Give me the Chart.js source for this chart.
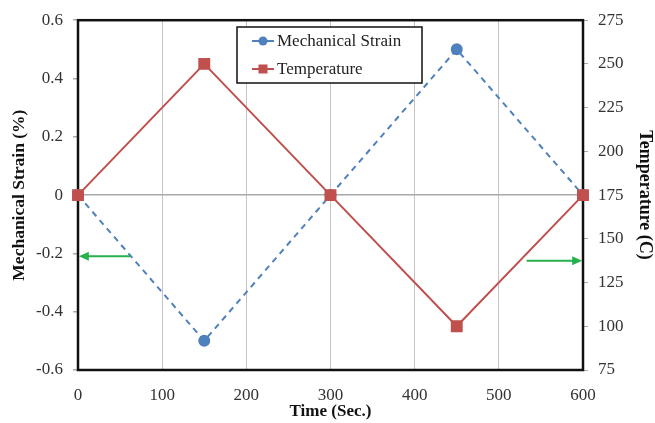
<!DOCTYPE html>
<html>
<head>
<meta charset="utf-8">
<script src="https://cdn.jsdelivr.net/npm/chart.js@4.4.1/dist/chart.umd.min.js"></script>
<style>
html,body{margin:0;padding:0;background:#fff;}
#wrap{width:655px;height:423px;}
</style>
</head>
<body>
<div id="wrap"><canvas id="c" width="655" height="423"></canvas></div>
<script>
// Data
const timeSec = [0, 150, 300, 450, 600];
const mechanicalStrain = [0, -0.5, 0, 0.5, 0];
const temperature = [175, 250, 175, 100, 175];
const seriesLabels = ['Mechanical Strain', 'Temperature'];
const xTicks = [0, 100, 200, 300, 400, 500, 600];
const strainTicks = [-0.6, -0.4, -0.2, 0, 0.2, 0.4, 0.6];
const tempTicks = [75, 100, 125, 150, 175, 200, 225, 250, 275];
// Annotation arrows (data units)
const arrowStrain = { axis: 'y', value: -0.21, from: 62, to: 1 };
const arrowTemp = { axis: 'y1', value: 137.5, from: 533, to: 599 };

const BLUE = '#4F81BD';
const RED = '#C0504D';
const GREEN = '#25B14C';
const FONT = '"Liberation Serif", "Times New Roman", serif';

const strainPts = timeSec.map((t, i) => ({ x: t, y: mechanicalStrain[i] }));
const tempPts = timeSec.map((t, i) => ({ x: t, y: temperature[i] }));

const framePlugin = {
  id: 'frame',
  beforeDatasetsDraw(chart) {
    const a = chart.chartArea, ctx = chart.ctx;
    ctx.save();
    ctx.strokeStyle = '#111';
    ctx.lineWidth = 2.5;
    ctx.strokeRect(a.left, a.top, a.right - a.left, a.bottom - a.top);
    ctx.restore();
  }
};

function drawArrow(ctx, x1, y, x2, color) {
  ctx.save();
  ctx.strokeStyle = color; ctx.fillStyle = color; ctx.lineWidth = 2;
  const dir = Math.sign(x2 - x1);
  ctx.beginPath(); ctx.moveTo(x1, y); ctx.lineTo(x2 - dir * 8, y); ctx.stroke();
  ctx.beginPath();
  ctx.moveTo(x2, y); ctx.lineTo(x2 - dir * 10, y - 4.5); ctx.lineTo(x2 - dir * 10, y + 4.5);
  ctx.closePath(); ctx.fill();
  ctx.restore();
}

const overlayPlugin = {
  id: 'overlay',
  afterDatasetsDraw(chart) {
    const ctx = chart.ctx, sx = chart.scales.x;
    [arrowStrain, arrowTemp].forEach(ar => {
      const y = chart.scales[ar.axis].getPixelForValue(ar.value);
      drawArrow(ctx, sx.getPixelForValue(ar.from), y, sx.getPixelForValue(ar.to), GREEN);
    });
    // legend box
    const bx = 237, by = 27, bw = 185, bh = 56;
    ctx.save();
    ctx.fillStyle = '#fff';
    ctx.fillRect(bx, by, bw, bh);
    ctx.strokeStyle = '#111'; ctx.lineWidth = 1.5;
    ctx.strokeRect(bx, by, bw, bh);
    chart.data.datasets.slice().sort((p, q) => p.legendIndex - q.legendIndex).forEach((ds, i) => {
      const cy = by + 14 + i * 28;
      ctx.strokeStyle = ds.borderColor; ctx.lineWidth = 2; ctx.setLineDash([]);
      ctx.beginPath(); ctx.moveTo(252, cy); ctx.lineTo(274, cy); ctx.stroke();
      ctx.fillStyle = ds.backgroundColor;
      if (ds.pointStyle === 'rect') { ctx.fillRect(258.5, cy - 4.5, 9, 9); }
      else { ctx.beginPath(); ctx.arc(263, cy, 4.5, 0, Math.PI * 2); ctx.fill(); }
      ctx.fillStyle = '#222';
      ctx.font = '17px ' + FONT;
      ctx.textBaseline = 'middle'; ctx.textAlign = 'left';
      ctx.fillText(ds.label, 277, cy + 1);
    });
    ctx.restore();
  }
};

new Chart(document.getElementById('c'), {
  type: 'line',
  data: {
    datasets: [
      {
        label: seriesLabels[0], data: strainPts, yAxisID: 'y', legendIndex: 0, order: 2, clip: false,
        borderColor: BLUE, backgroundColor: BLUE, borderWidth: 2, borderDash: [6, 5],
        pointStyle: 'circle', pointRadius: 5, pointHoverRadius: 5, tension: 0
      },
      {
        label: seriesLabels[1], data: tempPts, yAxisID: 'y1', legendIndex: 1, order: 1, clip: false,
        borderColor: RED, backgroundColor: RED, borderWidth: 2,
        pointStyle: 'rect', pointRadius: 7, pointHoverRadius: 7, tension: 0
      }
    ]
  },
  options: {
    responsive: false, animation: false,
    layout: { padding: { top: 20, left: 0, right: 0, bottom: 0 } },
    plugins: { legend: { display: false }, tooltip: { enabled: false } },
    scales: {
      x: {
        type: 'linear', min: 0, max: 600,
        afterBuildTicks: s => { s.ticks = xTicks.map(v => ({ value: v })); },
        afterFit: s => { s.height = 53; },
        border: { display: false },
        grid: { color: '#c4c4c4', lineWidth: 1, drawTicks: false },
        ticks: { padding: 15, color: '#333', font: { family: FONT, size: 17 } },
        title: { display: true, text: 'Time (Sec.)', color: '#111', padding: { top: 0, bottom: 1 },
                 font: { family: FONT, size: 17, weight: 'bold' } }
      },
      y: {
        type: 'linear', position: 'left', min: -0.6, max: 0.6,
        afterBuildTicks: s => { s.ticks = strainTicks.map(v => ({ value: v })); },
        afterFit: s => { s.width = 78; },
        border: { display: false },
        grid: { color: c => (c.tick && Math.abs(c.tick.value) < 1e-9) ? '#a8a8a8' : 'rgba(0,0,0,0)',
                tickColor: '#aaa', tickLength: 5, lineWidth: 1.5 },
        ticks: { padding: 10, color: '#333', font: { family: FONT, size: 17 },
                 callback: v => (Math.abs(v) < 1e-9 ? '0' : String(Math.round(v * 10) / 10)) },
        title: { display: true, text: 'Mechanical Strain (%)', color: '#111', padding: { top: 9, bottom: 0 },
                 font: { family: FONT, size: 17.5, weight: 'bold' } }
      },
      y1: {
        type: 'linear', position: 'right', min: 75, max: 275,
        afterBuildTicks: s => { s.ticks = tempTicks.map(v => ({ value: v })); },
        afterFit: s => { s.width = 72; },
        border: { display: false },
        grid: { drawOnChartArea: false, tickColor: '#aaa', tickLength: 5 },
        ticks: { padding: 10, color: '#333', font: { family: FONT, size: 17 } },
        title: { display: true, text: 'Temperature (C)', color: '#111', padding: { top: 0, bottom: 0 },
                 font: { family: FONT, size: 18, weight: 'bold' } }
      }
    }
  },
  plugins: [framePlugin, overlayPlugin]
});
</script>
</body>
</html>
